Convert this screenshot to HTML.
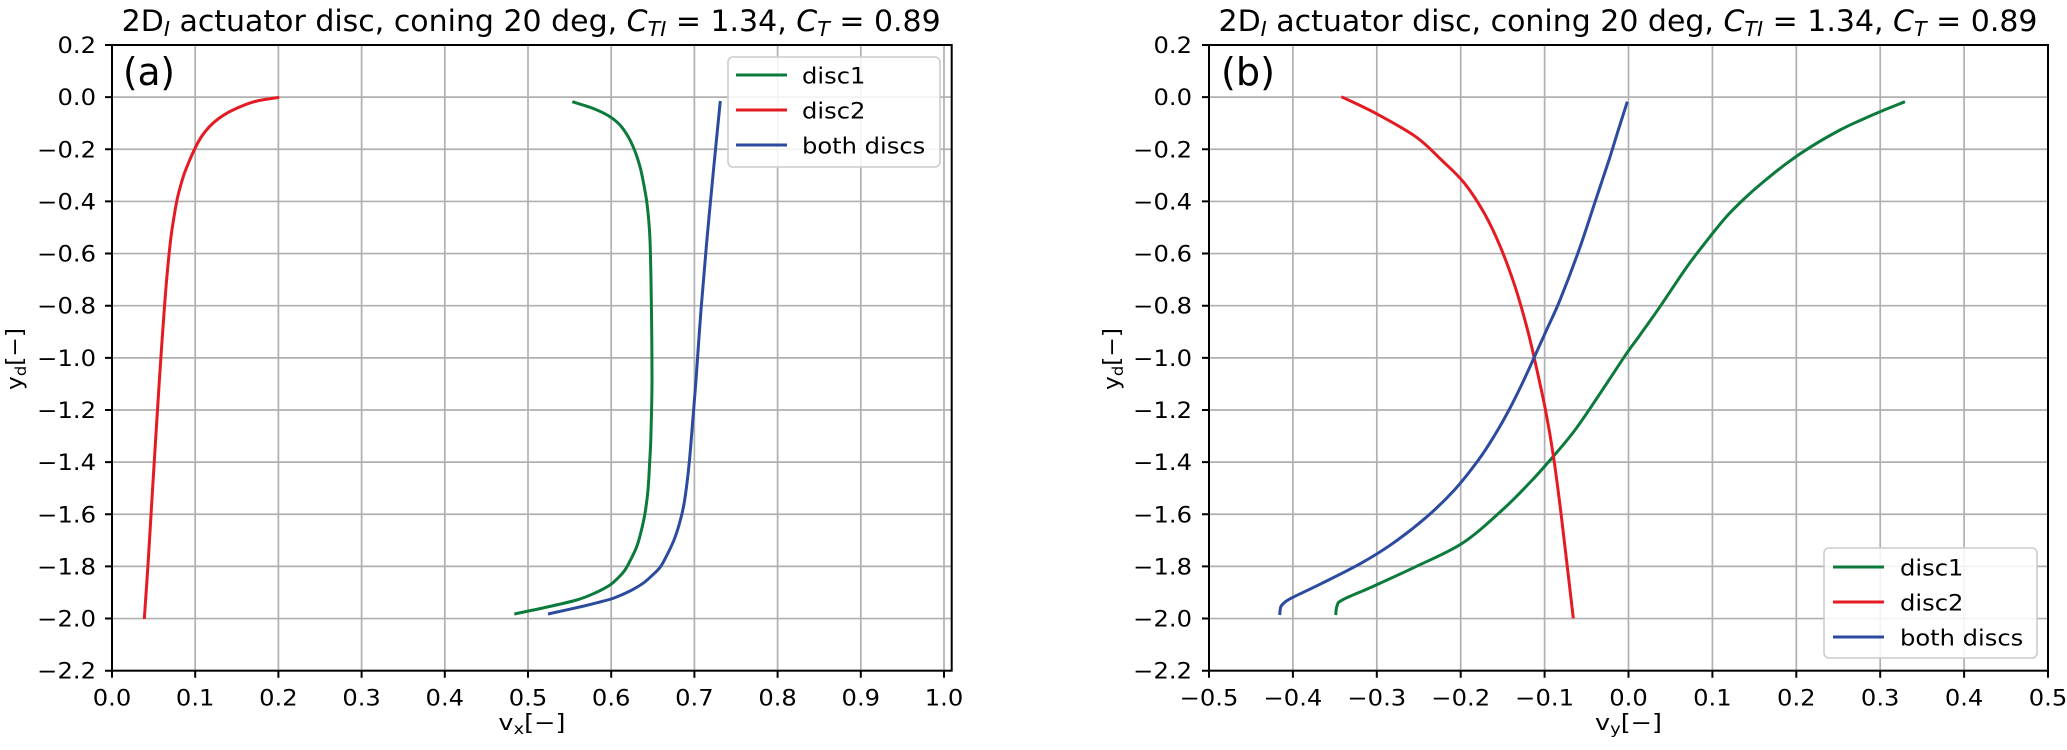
<!DOCTYPE html>
<html><head><meta charset="utf-8"><style>
html,body{margin:0;padding:0;background:#fff;}
svg{display:block;font-family:"DejaVu Sans","Liberation Sans",sans-serif;}
</style></head><body>
<svg id="fig" width="2067" height="750" viewBox="0 0 2067 750" xmlns="http://www.w3.org/2000/svg">
<rect width="2067" height="750" fill="#fff"/>

<!-- ============ LEFT AXES ============ -->
<g stroke="#b0b0b0" stroke-width="1.7" fill="none">
<path d="M112 45V670.7M195.2 45V670.7M278.4 45V670.7M361.6 45V670.7M444.8 45V670.7M528 45V670.7M611.2 45V670.7M694.4 45V670.7M777.6 45V670.7M860.8 45V670.7M944 45V670.7"/>
<path d="M112 45H951.7M112 97.14H951.7M112 149.28H951.7M112 201.42H951.7M112 253.56H951.7M112 305.7H951.7M112 357.84H951.7M112 409.98H951.7M112 462.12H951.7M112 514.26H951.7M112 566.4H951.7M112 618.54H951.7M112 670.7H951.7"/>
</g>
<g fill="none" stroke-width="3" stroke-linejoin="round" stroke-linecap="butt">
<polyline class="c" stroke="#e51b23" points="279.3,97.3 255,101.5 233,110 219.4,118 209.4,126.7 201.2,137 195,148.3 189.3,161 184.5,173 180.5,186 177,200 173.5,220 170.6,240 166.6,280 162.8,330 159.4,380 155.6,440 151.9,500 148.3,560 144.3,619"/>
<polyline class="c" stroke="#0b7a3b" points="572.3,101.7 592,108 608,115.5 619,124 627.5,135.5 634.5,150 640,166.7 643.5,183 646.5,200 648.7,220 650,240 651,280 651.7,330 652,380 651.5,413 650.8,440 649.8,460 648,490 645,513.3 641,532 636.7,546.7 631,559 625,570 618,578 610,585 595,593 576.7,600 545,607.5 514.3,614"/>
<polyline class="c" stroke="#2c4b9f" points="720.3,101 713.5,170 706.9,240 701,310 696,380 692.8,420 689.5,460 686.5,487 683.5,506.7 679,525 674,540 667.5,554 660.5,566.7 651.5,576 643,583.3 630,591 614,598 600,602 584,606 548,614"/>
</g>
<g stroke="#000" stroke-width="2" fill="none">
<rect x="112" y="45" width="839.7" height="625.7"/>
<path d="M112 670.7v7M195.2 670.7v7M278.4 670.7v7M361.6 670.7v7M444.8 670.7v7M528 670.7v7M611.2 670.7v7M694.4 670.7v7M777.6 670.7v7M860.8 670.7v7M944 670.7v7"/>
<path d="M112 45h-7M112 97.14h-7M112 149.28h-7M112 201.42h-7M112 253.56h-7M112 305.7h-7M112 357.84h-7M112 409.98h-7M112 462.12h-7M112 514.26h-7M112 566.4h-7M112 618.54h-7M112 670.7h-7"/>
</g>
<g font-size="22" fill="#000" text-anchor="middle">
<text x="112" y="705.5" textLength="38.5" lengthAdjust="spacingAndGlyphs">0.0</text><text x="195.2" y="705.5" textLength="38.5" lengthAdjust="spacingAndGlyphs">0.1</text><text x="278.4" y="705.5" textLength="38.5" lengthAdjust="spacingAndGlyphs">0.2</text><text x="361.6" y="705.5" textLength="38.5" lengthAdjust="spacingAndGlyphs">0.3</text><text x="444.8" y="705.5" textLength="38.5" lengthAdjust="spacingAndGlyphs">0.4</text><text x="528" y="705.5" textLength="38.5" lengthAdjust="spacingAndGlyphs">0.5</text><text x="611.2" y="705.5" textLength="38.5" lengthAdjust="spacingAndGlyphs">0.6</text><text x="694.4" y="705.5" textLength="38.5" lengthAdjust="spacingAndGlyphs">0.7</text><text x="777.6" y="705.5" textLength="38.5" lengthAdjust="spacingAndGlyphs">0.8</text><text x="860.8" y="705.5" textLength="38.5" lengthAdjust="spacingAndGlyphs">0.9</text><text x="944" y="705.5" textLength="38.5" lengthAdjust="spacingAndGlyphs">1.0</text>
</g>
<g font-size="22" fill="#000" text-anchor="end">
<text x="96" y="53" textLength="38.5" lengthAdjust="spacingAndGlyphs">0.2</text><text x="96" y="105.1" textLength="38.5" lengthAdjust="spacingAndGlyphs">0.0</text><text x="96" y="157.3" textLength="58.8" lengthAdjust="spacingAndGlyphs">−0.2</text><text x="96" y="209.4" textLength="58.8" lengthAdjust="spacingAndGlyphs">−0.4</text><text x="96" y="261.6" textLength="58.8" lengthAdjust="spacingAndGlyphs">−0.6</text><text x="96" y="313.7" textLength="58.8" lengthAdjust="spacingAndGlyphs">−0.8</text><text x="96" y="365.8" textLength="58.8" lengthAdjust="spacingAndGlyphs">−1.0</text><text x="96" y="418" textLength="58.8" lengthAdjust="spacingAndGlyphs">−1.2</text><text x="96" y="470.1" textLength="58.8" lengthAdjust="spacingAndGlyphs">−1.4</text><text x="96" y="522.3" textLength="58.8" lengthAdjust="spacingAndGlyphs">−1.6</text><text x="96" y="574.4" textLength="58.8" lengthAdjust="spacingAndGlyphs">−1.8</text><text x="96" y="626.5" textLength="58.8" lengthAdjust="spacingAndGlyphs">−2.0</text><text x="96" y="678.7" textLength="58.8" lengthAdjust="spacingAndGlyphs">−2.2</text>
</g>
<text x="531.9" y="730" font-size="22" text-anchor="middle" textLength="67" lengthAdjust="spacingAndGlyphs">v<tspan font-size="15.5" dy="4">x</tspan><tspan dy="-4">[−]</tspan></text>
<text transform="translate(22,359) rotate(-90)" font-size="22" text-anchor="middle" textLength="62" lengthAdjust="spacingAndGlyphs">y<tspan font-size="15.5" dy="4">d</tspan><tspan dy="-4">[−]</tspan></text>
<text x="121.7" y="31" font-size="29" textLength="819" lengthAdjust="spacingAndGlyphs">2D<tspan font-size="20" font-style="italic" dy="5">I</tspan><tspan dy="-5"> actuator disc, coning 20 deg, </tspan><tspan font-style="italic">C</tspan><tspan font-size="20" font-style="italic" dy="5">TI</tspan><tspan dy="-5"> = 1.34, </tspan><tspan font-style="italic">C</tspan><tspan font-size="20" font-style="italic" dy="5">T</tspan><tspan dy="-5"> = 0.89</tspan></text>
<text x="123" y="85" font-size="38" textLength="52" lengthAdjust="spacingAndGlyphs">(a)</text>
<!-- legend left -->
<rect x="728" y="57" width="212" height="110" rx="5" fill="#fff" fill-opacity="0.85" stroke="#cccccc" stroke-width="1.6"/>
<g stroke-width="3">
<line x1="736" y1="75" x2="787" y2="75" stroke="#0b7a3b"/>
<line x1="736" y1="110" x2="787" y2="110" stroke="#e51b23"/>
<line x1="736" y1="145" x2="787" y2="145" stroke="#2c4b9f"/>
</g>
<g font-size="22" fill="#000">
<text x="802" y="83.5" textLength="63.4" lengthAdjust="spacingAndGlyphs">disc1</text><text x="802" y="118.5" textLength="63.4" lengthAdjust="spacingAndGlyphs">disc2</text><text x="802" y="153.5" textLength="123.3" lengthAdjust="spacingAndGlyphs">both discs</text>
</g>

<!-- ============ RIGHT AXES ============ -->
<g stroke="#b0b0b0" stroke-width="1.7" fill="none">
<path d="M1209 45V670.7M1292.9 45V670.7M1376.8 45V670.7M1460.7 45V670.7M1544.6 45V670.7M1628.5 45V670.7M1712.4 45V670.7M1796.3 45V670.7M1880.2 45V670.7M1964.1 45V670.7M2048 45V670.7"/>
<path d="M1209 45H2048M1209 97.14H2048M1209 149.28H2048M1209 201.42H2048M1209 253.56H2048M1209 305.7H2048M1209 357.84H2048M1209 409.98H2048M1209 462.12H2048M1209 514.26H2048M1209 566.4H2048M1209 618.54H2048M1209 670.7H2048"/>
</g>
<g fill="none" stroke-width="3" stroke-linejoin="round">
<polyline class="c" stroke="#0b7a3b" points="1905,101.7 1880,111.7 1860,120.5 1840,130 1811,146.7 1786.7,163.3 1762,183 1745,198 1727,216 1710,236.7 1687,266.7 1660,306.7 1640,335 1626.7,353.3 1609,380 1589,410 1573.5,432 1556,453.3 1532.3,480 1502.3,510 1462.3,543.3 1415.7,566.7 1372.3,586.7 1342.3,600 1337,606 1335.7,615"/>
<polyline class="c" stroke="#e51b23" points="1341.3,96.7 1375.7,113.3 1415.7,136.7 1441.5,160 1464.5,183.3 1484.3,213.3 1500.3,246.7 1515.1,286.7 1526.7,326.7 1534.7,360 1545.5,410 1553.5,456.7 1561,513.3 1567.3,566.7 1573.3,618.3"/>
<polyline class="c" stroke="#2c4b9f" points="1627.3,101.7 1618,131 1609,160 1595.7,200 1579,250 1560,300 1547,329 1534.5,356.7 1522,384 1509,410 1494.2,436 1478.4,460 1454.4,490 1426.9,516.7 1392.9,543.3 1360.9,563.3 1321.9,583.3 1291,598.3 1284,603 1280.7,607 1279.7,615"/>
</g>
<g stroke="#000" stroke-width="2" fill="none">
<rect x="1209" y="45" width="839" height="625.7"/>
<path d="M1209 670.7v7M1292.9 670.7v7M1376.8 670.7v7M1460.7 670.7v7M1544.6 670.7v7M1628.5 670.7v7M1712.4 670.7v7M1796.3 670.7v7M1880.2 670.7v7M1964.1 670.7v7M2048 670.7v7"/>
<path d="M1209 45h-7M1209 97.14h-7M1209 149.28h-7M1209 201.42h-7M1209 253.56h-7M1209 305.7h-7M1209 357.84h-7M1209 409.98h-7M1209 462.12h-7M1209 514.26h-7M1209 566.4h-7M1209 618.54h-7M1209 670.7h-7"/>
</g>
<g font-size="22" fill="#000" text-anchor="middle">
<text x="1209" y="705.5" textLength="58.8" lengthAdjust="spacingAndGlyphs">−0.5</text><text x="1292.9" y="705.5" textLength="58.8" lengthAdjust="spacingAndGlyphs">−0.4</text><text x="1376.8" y="705.5" textLength="58.8" lengthAdjust="spacingAndGlyphs">−0.3</text><text x="1460.7" y="705.5" textLength="58.8" lengthAdjust="spacingAndGlyphs">−0.2</text><text x="1544.6" y="705.5" textLength="58.8" lengthAdjust="spacingAndGlyphs">−0.1</text><text x="1628.5" y="705.5" textLength="38.5" lengthAdjust="spacingAndGlyphs">0.0</text><text x="1712.4" y="705.5" textLength="38.5" lengthAdjust="spacingAndGlyphs">0.1</text><text x="1796.3" y="705.5" textLength="38.5" lengthAdjust="spacingAndGlyphs">0.2</text><text x="1880.2" y="705.5" textLength="38.5" lengthAdjust="spacingAndGlyphs">0.3</text><text x="1964.1" y="705.5" textLength="38.5" lengthAdjust="spacingAndGlyphs">0.4</text><text x="2048" y="705.5" textLength="38.5" lengthAdjust="spacingAndGlyphs">0.5</text>
</g>
<g font-size="22" fill="#000" text-anchor="end">
<text x="1192" y="53" textLength="38.5" lengthAdjust="spacingAndGlyphs">0.2</text><text x="1192" y="105.1" textLength="38.5" lengthAdjust="spacingAndGlyphs">0.0</text><text x="1192" y="157.3" textLength="58.8" lengthAdjust="spacingAndGlyphs">−0.2</text><text x="1192" y="209.4" textLength="58.8" lengthAdjust="spacingAndGlyphs">−0.4</text><text x="1192" y="261.6" textLength="58.8" lengthAdjust="spacingAndGlyphs">−0.6</text><text x="1192" y="313.7" textLength="58.8" lengthAdjust="spacingAndGlyphs">−0.8</text><text x="1192" y="365.8" textLength="58.8" lengthAdjust="spacingAndGlyphs">−1.0</text><text x="1192" y="418" textLength="58.8" lengthAdjust="spacingAndGlyphs">−1.2</text><text x="1192" y="470.1" textLength="58.8" lengthAdjust="spacingAndGlyphs">−1.4</text><text x="1192" y="522.3" textLength="58.8" lengthAdjust="spacingAndGlyphs">−1.6</text><text x="1192" y="574.4" textLength="58.8" lengthAdjust="spacingAndGlyphs">−1.8</text><text x="1192" y="626.5" textLength="58.8" lengthAdjust="spacingAndGlyphs">−2.0</text><text x="1192" y="678.7" textLength="58.8" lengthAdjust="spacingAndGlyphs">−2.2</text>
</g>
<text x="1628.5" y="730" font-size="22" text-anchor="middle" textLength="67" lengthAdjust="spacingAndGlyphs">v<tspan font-size="15.5" dy="4">y</tspan><tspan dy="-4">[−]</tspan></text>
<text transform="translate(1119,359) rotate(-90)" font-size="22" text-anchor="middle" textLength="62" lengthAdjust="spacingAndGlyphs">y<tspan font-size="15.5" dy="4">d</tspan><tspan dy="-4">[−]</tspan></text>
<text x="1218.5" y="31" font-size="29" textLength="819" lengthAdjust="spacingAndGlyphs">2D<tspan font-size="20" font-style="italic" dy="5">I</tspan><tspan dy="-5"> actuator disc, coning 20 deg, </tspan><tspan font-style="italic">C</tspan><tspan font-size="20" font-style="italic" dy="5">TI</tspan><tspan dy="-5"> = 1.34, </tspan><tspan font-style="italic">C</tspan><tspan font-size="20" font-style="italic" dy="5">T</tspan><tspan dy="-5"> = 0.89</tspan></text>
<text x="1221" y="85" font-size="38" textLength="54" lengthAdjust="spacingAndGlyphs">(b)</text>
<!-- legend right -->
<rect x="1824" y="548" width="213" height="110" rx="5" fill="#fff" fill-opacity="0.85" stroke="#cccccc" stroke-width="1.6"/>
<g stroke-width="3">
<line x1="1833" y1="567" x2="1884" y2="567" stroke="#0b7a3b"/>
<line x1="1833" y1="602" x2="1884" y2="602" stroke="#e51b23"/>
<line x1="1833" y1="637" x2="1884" y2="637" stroke="#2c4b9f"/>
</g>
<g font-size="22" fill="#000">
<text x="1900" y="575.5" textLength="63.4" lengthAdjust="spacingAndGlyphs">disc1</text><text x="1900" y="610.5" textLength="63.4" lengthAdjust="spacingAndGlyphs">disc2</text><text x="1900" y="645.5" textLength="123.3" lengthAdjust="spacingAndGlyphs">both discs</text>
</g>
</svg>
<script>
(function(){
  var NS="http://www.w3.org/2000/svg";
  var pls=document.querySelectorAll("polyline.c");
  for(var k=0;k<pls.length;k++){
    var pl=pls[k];
    var pts=pl.getAttribute("points").trim().split(/\s+/).map(function(p){return p.split(",").map(Number);});
    var n=pts.length; if(n<3) continue;
    var d="M"+pts[0][0]+","+pts[0][1];
    for(var i=0;i<n-1;i++){
      var p0=pts[i>0?i-1:i],p1=pts[i],p2=pts[i+1],p3=pts[i+2<n?i+2:i+1];
      var c1x=p1[0]+(p2[0]-p0[0])/6,c1y=p1[1]+(p2[1]-p0[1])/6;
      var c2x=p2[0]-(p3[0]-p1[0])/6,c2y=p2[1]-(p3[1]-p1[1])/6;
      d+=" C"+c1x.toFixed(2)+","+c1y.toFixed(2)+" "+c2x.toFixed(2)+","+c2y.toFixed(2)+" "+p2[0]+","+p2[1];
    }
    var path=document.createElementNS(NS,"path");
    path.setAttribute("d",d);
    path.setAttribute("stroke",pl.getAttribute("stroke"));
    path.setAttribute("fill","none");
    pl.parentNode.replaceChild(path,pl);
  }
})();
</script>
</body></html>
